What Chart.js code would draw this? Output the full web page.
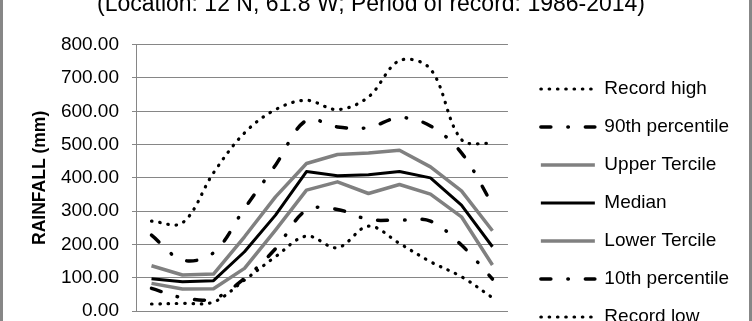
<!DOCTYPE html>
<html>
<head>
<meta charset="utf-8">
<script src="https://cdn.jsdelivr.net/npm/chart.js@4.4.1/dist/chart.umd.min.js"></script>
<style>
  html, body { margin: 0; padding: 0; background: #fff; }
  body { width: 752px; height: 321px; overflow: hidden; position: relative; }
  #frame { position: absolute; left: 0; top: -20px; width: 752px; height: 400px; box-sizing: border-box; border: 3px solid #878787; }
  #c { position: absolute; left: 3px; top: -10px; }
</style>
</head>
<body>
<div id="frame"></div>
<canvas id="c" width="746" height="360"></canvas>
<script>
const titleText = '(Location: 12 N, 61.8 W; Period of record: 1986-2014)';
const yAxisTitle = 'RAINFALL (mm)';
const months = ['Jan', 'Feb', 'Mar', 'Apr', 'May', 'Jun', 'Jul', 'Aug', 'Sep', 'Oct', 'Nov', 'Dec'];
const yTickValues = [0, 100, 200, 300, 400, 500, 600, 700, 800];
const seriesNames = ['Record high', '90th percentile', 'Upper Tercile', 'Median', 'Lower Tercile', '10th percentile', 'Record low'];

const recordHigh   = [270, 265, 415, 535, 605, 633, 605, 643, 752, 727, 515, 503];
const pct90        = [228, 153, 175, 308, 438, 573, 553, 551, 581, 556, 475, 320];
const upperTercile = [136, 108, 111, 223, 343, 443, 470, 475, 483, 433, 361, 241];
const median       = [ 97,  88,  91, 178, 288, 419, 406, 409, 419, 400, 318, 193];
const lowerTercile = [ 83,  66,  67, 128, 243, 363, 388, 353, 380, 351, 283, 138];
const pct10        = [ 68,  40,  37,  98, 187, 303, 305, 275, 273, 270, 198,  96];
const recordLow    = [ 21,  23,  27,  93, 163, 225, 190, 255, 203, 148, 103,  40];

const FONT = "'Liberation Sans', Arial, sans-serif";
const GRID = '#868686';

const dotted = { borderColor: '#000', borderWidth: 3.2, borderDash: [0.5, 7.8], borderCapStyle: 'round', tension: 0.35 };
const dashDot = { borderColor: '#000', borderWidth: 3.5, borderDash: [10, 17, 0.5, 17], borderCapStyle: 'round', tension: 0.35 };
const grayLine = { borderColor: '#808080', borderWidth: 3.5, borderDash: [], borderCapStyle: 'butt', tension: 0 };
const blackLine = { borderColor: '#000', borderWidth: 3, borderDash: [], borderCapStyle: 'butt', tension: 0 };

const seriesData = [recordHigh, pct90, upperTercile, median, lowerTercile, pct10, recordLow];
const seriesStyle = [dotted, dashDot, grayLine, blackLine, grayLine, dashDot, dotted];

const datasets = seriesNames.map((name, i) => Object.assign({
  label: name,
  data: seriesData[i],
  pointRadius: 0,
  pointHoverRadius: 0,
  fill: false,
  borderJoinStyle: 'round',
  backgroundColor: seriesStyle[i].borderColor,
  pointStyle: 'line'
}, seriesStyle[i]));

new Chart(document.getElementById('c'), {
  type: 'line',
  data: { labels: months, datasets },
  options: {
    responsive: false,
    animation: false,
    events: [],
    layout: { padding: { top: 0, left: 0, right: 10, bottom: 4.5 } },
    plugins: {
      tooltip: { enabled: false },
      title: {
        display: true,
        text: titleText,
        color: '#000',
        font: { family: FONT, size: 23, weight: 'normal', lineHeight: 1.2 },
        padding: { top: 1.2, bottom: 25.9 }
      },
      legend: {
        display: true,
        position: 'right',
        align: 'end',
        maxWidth: 400,
        labels: {
          usePointStyle: true,
          pointStyle: 'line',
          pointStyleWidth: 54,
          padding: 19,
          color: '#000',
          font: { family: FONT, size: 19 },
          generateLabels: (chart) => {
            const items = Chart.defaults.plugins.legend.labels.generateLabels(chart);
            items.forEach((it) => {
              const ds = chart.data.datasets[it.datasetIndex];
              it.lineDash = ds.borderDash;
              it.lineCap = ds.borderCapStyle;
              it.lineWidth = ds.borderWidth;
              it.strokeStyle = ds.borderColor;
            });
            return items;
          }
        }
      }
    },
    scales: {
      x: {
        type: 'category',
        offset: true,
        grid: { display: false },
        border: { display: true, color: GRID, width: 1 },
        ticks: { color: '#000', padding: 12, font: { family: FONT, size: 19 } },
        afterFit: (s) => { s.height = 34.5; }
      },
      y: {
        type: 'linear',
        position: 'left',
        min: 0,
        max: 800,
        afterBuildTicks: (s) => { s.ticks = yTickValues.map(v => ({ value: v })); },
        grid: { color: GRID, lineWidth: 1, tickLength: 4, drawTicks: true },
        border: { display: true, color: GRID, width: 1 },
        ticks: {
          color: '#000',
          padding: 13,
          font: { family: FONT, size: 19 },
          callback: (v) => Number(v).toFixed(2)
        },
        title: {
          display: true,
          text: yAxisTitle,
          color: '#000',
          font: { family: FONT, size: 17.5, weight: 'bold', lineHeight: 1.2 },
          padding: { top: 26.5, bottom: 0 }
        },
        afterFit: (s) => { s.width = 133; }
      },
      yR: {
        type: 'linear',
        position: 'right',
        display: true,
        grid: { display: false },
        border: { display: false },
        ticks: { display: false },
        afterFit: (s) => { s.width = 13.9; }
      }
    }
  }
});
</script>
</body>
</html>
